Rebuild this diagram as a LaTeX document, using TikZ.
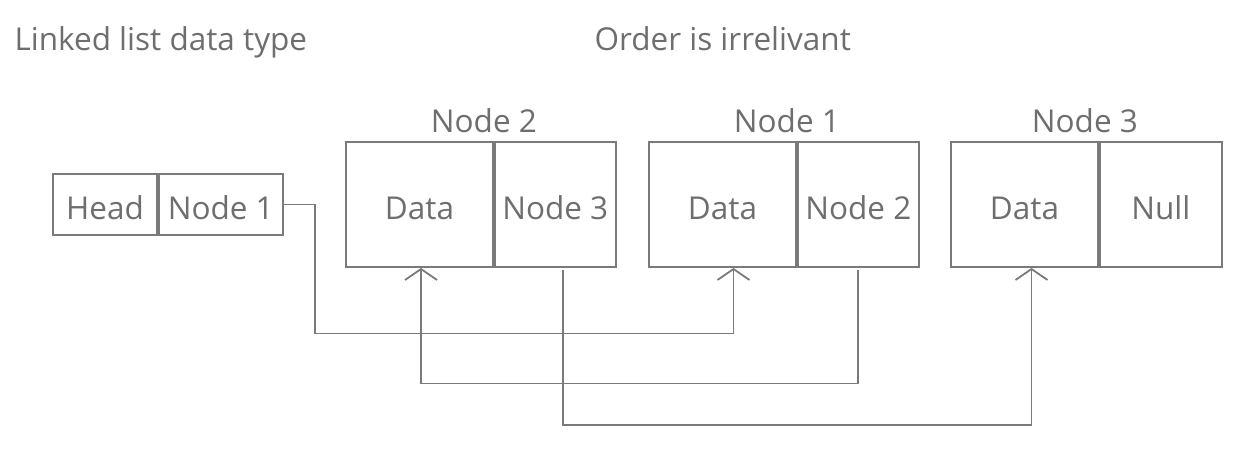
\documentclass[tikz,border=0pt]{standalone}
\usepackage{fontspec}
\setmainfont{Open Sans}
\usepackage{xcolor}
\usepackage{tikz}
\usetikzlibrary{positioning,arrows.meta}

\definecolor{linegray}{RGB}{122,122,122}
\definecolor{txtgray}{RGB}{110,110,110}

\begin{document}
\begin{tikzpicture}[
  x=1pt, y=-1pt,
  every node/.style={text=txtgray,font=\fontsize{31.5}{38}\selectfont},
  cell/.style={rectangle,draw=linegray,line width=1.8pt,inner sep=0pt,minimum height=125pt,text height=29pt,text depth=0pt},
  small/.style={cell,minimum height=61pt},
  link/.style={draw=linegray,line width=1.8pt,-{Straight Barb[length=11pt,width=32pt,line width=1.8pt]}}]

  \useasboundingbox (0,0) rectangle (1251,450);

  \node[anchor=base west] (title) at (11,50) {Linked list data type};
  \node[anchor=base west] (order) at (591,50) {Order is irrelivant};

  \node[small,minimum width=104pt] (head) at (105,204.5) {Head};
  \node[small,minimum width=124pt,right=0pt of head] (hp) {Node 1};

  \node[cell,minimum width=147pt] (d2) at (419.5,204.5) {Data};
  \node[cell,minimum width=121pt,right=0pt of d2] (p2) {Node 3};
  \node[cell,minimum width=147pt] (d1) at (722.5,204.5) {Data};
  \node[cell,minimum width=121pt,right=0pt of d1] (p1) {Node 2};
  \node[cell,minimum width=147pt] (d3) at (1024.5,204.5) {Data};
  \node[cell,minimum width=122pt,right=0pt of d3] (p3) {Null};

  \node[anchor=base] (l2) at ([xshift=-10pt,yshift=9pt]d2.north east) {Node 2};
  \node[anchor=base] (l1) at ([xshift=-10pt,yshift=9pt]d1.north east) {Node 1};
  \node[anchor=base] (l3) at ([xshift=-14pt,yshift=9pt]d3.north east) {Node 3};

  \draw[link] (hp.east) -- ++(31,0) -- ++(0,129) -| ([xshift=11pt]d1.south);
  \draw[link] ([yshift=-2pt]p1.south) -- ++(0,113.5) -| ([xshift=1.5pt]d2.south);
  \draw[link] ([xshift=8pt,yshift=-2pt]p2.south) -- ++(0,155) -| ([xshift=7pt]d3.south);
\end{tikzpicture}
\end{document}
